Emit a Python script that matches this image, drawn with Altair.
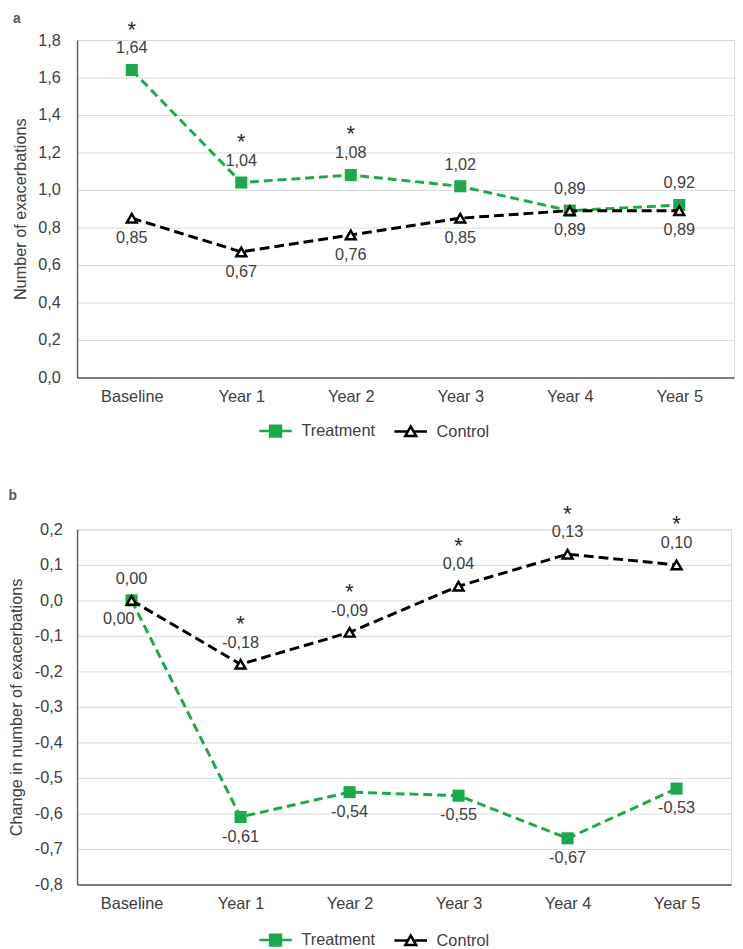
import altair as alt
import pandas as pd

FONT = "Liberation Sans"
GREEN = "#1DA84C"
TEXT = "#404040"
FS = 16.5

times = ["Baseline", "Year 1", "Year 2", "Year 3", "Year 4", "Year 5"]
groups = ["Treatment", "Control"]

a_treatment = [1.64, 1.04, 1.08, 1.02, 0.89, 0.92]
a_control = [0.85, 0.67, 0.76, 0.85, 0.89, 0.89]
a_sig_treatment = [1, 1, 1, 0, 0, 0]
a_sig_control = [0, 0, 0, 0, 0, 0]

b_treatment = [0.00, -0.61, -0.54, -0.55, -0.67, -0.53]
b_control = [0.00, -0.18, -0.09, 0.04, 0.13, 0.10]
b_sig_treatment = [0, 0, 0, 0, 0, 0]
b_sig_control = [0, 1, 1, 1, 1, 1]

a_ticks = [0.0, 0.2, 0.4, 0.6, 0.8, 1.0, 1.2, 1.4, 1.6, 1.8]
b_ticks = [-0.8, -0.7, -0.6, -0.5, -0.4, -0.3, -0.2, -0.1, 0.0, 0.1, 0.2]


def make_df(treat, ctrl, sig_t, sig_c):
    rows = []
    for g, vals, sigs in (("Treatment", treat, sig_t), ("Control", ctrl, sig_c)):
        for t, v, s in zip(times, vals, sigs):
            rows.append({"Time": t, "Group": g, "v": v, "sig": s,
                         "label": f"{v:.2f}".replace(".", ",")})
    return pd.DataFrame(rows)


LABEL_EXPR = "replace(replace(format(datum.value, '.1f'), '.', ','), '\u2212', '-')"

T_PATH = "M-3.3,0H3.3M-1.1,-1.1H1.1V1.1H-1.1Z"
C_PATH = "M-3.3,0H-0.6M0.6,0H3.3M0,-1.05L1.1,0.9L-1.1,0.9Z"


def panel(df, ticks, letter, ytitle, w, h, label_padding, title_padding,
          above_filter, below_filter, special_filter, sig_group, legend_x, legend_y,
          t_offset):
    base = alt.Chart(df)
    x = alt.X("Time:N", sort=times, scale=alt.Scale(domain=times),
              axis=alt.Axis(title=None, labelAngle=0, ticks=False, grid=False,
                            labelPadding=11, labelFontSize=FS, labelColor=TEXT,
                            domainColor="#595959", domainWidth=1.4, labelFont=FONT))
    y = alt.Y("v:Q", scale=alt.Scale(domain=[ticks[0], ticks[-1]], nice=False, zero=False),
              axis=alt.Axis(values=ticks, labelExpr=LABEL_EXPR, title=ytitle, ticks=False,
                            grid=True, gridColor="#D9D9D9", gridWidth=1,
                            domainColor="#595959", domainWidth=1.4,
                            labelPadding=label_padding, labelFontSize=FS, labelColor=TEXT,
                            labelFont=FONT, titleFont=FONT, titleFontSize=FS,
                            titleFontWeight="normal", titleColor=TEXT,
                            titlePadding=title_padding))

    tr = "datum.Group == 'Treatment'"
    co = "datum.Group == 'Control'"
    line_t = base.transform_filter(tr).mark_line(
        color=GREEN, strokeDash=[9, 5], strokeWidth=3).encode(x=x, y=y)
    line_c = base.transform_filter(co).mark_line(
        color="black", strokeDash=[10, 5], strokeWidth=3).encode(x=x, y=y)
    pt_t = base.transform_filter(tr).mark_point(
        shape="square", filled=True, color=GREEN, size=150, opacity=1).encode(x=x, y=y)
    pt_c = base.transform_filter(co).mark_point(
        shape="triangle-up", filled=True, fill="white", stroke="black",
        strokeWidth=2.5, size=100, opacity=1).encode(x=x, y=y)

    txt = dict(fontSize=FS, color=TEXT, font=FONT, baseline="middle")
    lab_above = base.transform_filter(above_filter).mark_text(dy=-22, **txt).encode(
        x=x, y=y, text="label:N")
    lab_below = base.transform_filter(below_filter).mark_text(dy=20, **txt).encode(
        x=x, y=y, text="label:N")
    layers = [line_t, pt_t, line_c, pt_c, lab_above, lab_below]
    if special_filter:
        layers.append(base.transform_filter(special_filter).mark_text(
            dy=19, dx=-13, **txt).encode(x=x, y=y, text="label:N"))
    stars = base.transform_filter(f"datum.Group == '{sig_group}' && datum.sig == 1").mark_text(
        text="*", fontSize=22, color="#262626", font=FONT, baseline="alphabetic", dy=-34
    ).encode(x=x, y=y)
    layers.append(stars)

    leg = alt.Legend(orient="none", legendX=legend_x, legendY=legend_y, direction="horizontal",
                     title=None, labelFontSize=FS, labelColor=TEXT, labelFont=FONT,
                     symbolSize=100, symbolStrokeWidth=2.5, symbolOpacity=1,
                     labelOffset=18, columnPadding=13, padding=0)
    legend_layer = base.transform_filter("datum.v > 999").mark_point(
        filled=True, opacity=1, size=100, strokeWidth=2.5).encode(
        shape=alt.Shape("Group:N", scale=alt.Scale(domain=groups, range=[T_PATH, C_PATH]), legend=leg),
        fill=alt.Fill("Group:N", scale=alt.Scale(domain=groups, range=[GREEN, "white"]), legend=leg),
        stroke=alt.Stroke("Group:N", scale=alt.Scale(domain=groups, range=[GREEN, "black"]), legend=leg),
    )
    layers.append(legend_layer)

    return alt.layer(*layers).properties(
        width=w, height=h,
        title=alt.TitleParams(letter, anchor="start", fontSize=14, fontWeight="bold",
                              color="#595959", font=FONT, offset=t_offset),
    )


df_a = make_df(a_treatment, a_control, a_sig_treatment, a_sig_control)
df_b = make_df(b_treatment, b_control, b_sig_treatment, b_sig_control)

pa = panel(df_a, a_ticks, "a", "Number of exacerbations", 666, 342, 17, 9,
           "datum.Group == 'Treatment'", "datum.Group == 'Control'", None,
           "Treatment", 193, 388, -7)
pb = panel(df_b, b_ticks, "b", "Change in number of exacerbations", 663, 360, 15, 10,
           "(datum.Group == 'Control' && datum.Time != 'Baseline') || (datum.Group == 'Treatment' && datum.Time == 'Baseline')",
           "datum.Group == 'Treatment' && datum.Time != 'Baseline'",
           "datum.Group == 'Control' && datum.Time == 'Baseline'",
           "Control", 193, 408, 0)

chart = (
    alt.vconcat(pa, pb, spacing=46,
                padding={"top": -4, "left": 0, "right": 0, "bottom": 0})
    .resolve_scale(shape="independent", fill="independent", stroke="independent")
    .resolve_legend(shape="independent", fill="independent", stroke="independent")
    .configure_view(stroke=None)
    .configure(font=FONT)
)

chart.save("out.html", embed_options={"renderer": "svg", "actions": False})
